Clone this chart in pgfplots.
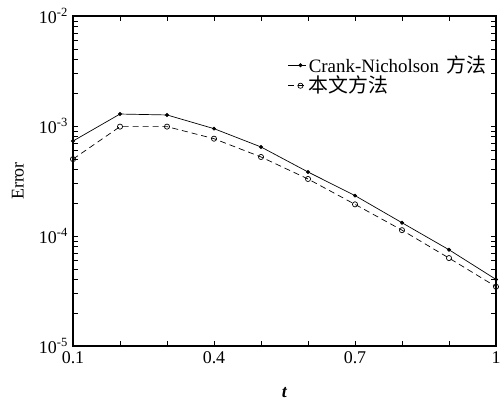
\documentclass[border=0pt]{standalone}
\usepackage{fontspec}
\setmainfont{Liberation Serif}
\newfontfamily\cjk[Scale=1.05]{Noto Sans CJK SC}
\usepackage{pgfplots}
\pgfplotsset{compat=1.18}

\begin{document}
\fontsize{18}{21}\selectfont
\begin{tikzpicture}
\begin{axis}[
  name=ax,
  scale only axis,
  width=423bp, height=330bp,
  ymode=log,
  xmin=0.1, xmax=1,
  ymin=1e-5, ymax=1e-2,
  xtick={0.1,0.4,0.7,1},
  xticklabels={0.1,0.4,0.7,1},
  minor xtick={0.2,0.3,0.5,0.6,0.8,0.9},
  ytick={1e-5,1e-4,1e-3,1e-2},
  yticklabels={10\textsuperscript{-5},10\textsuperscript{-4},10\textsuperscript{-3},10\textsuperscript{-2}},
  tick align=inside,
  major tick length=5pt,
  minor tick length=5pt,
  axis line style={line width=1.1pt},
  every tick/.style={black, line width=0.6pt},
  tick label style={font=\fontsize{18}{21}\selectfont\rmfamily},
  xticklabel style={yshift=1pt},
  yticklabel style={xshift=1pt},
  xlabel={\textbf{\textit{t}}},
  ylabel={Error},
  label style={font=\fontsize{18}{21}\selectfont\rmfamily},
  xlabel style={yshift=-12pt},
  ylabel style={yshift=3pt},
  legend style={draw=none, fill=none, at={(0.985,0.89)}, anchor=north east,
    font=\fontsize{19}{22}\selectfont\rmfamily, row sep=-3pt, inner sep=1pt},
  legend cell align=left,
  legend image code/.code={
    \draw[#1] (0pt,0pt) -- (18pt,0pt);
    \draw[#1] plot coordinates {(12pt,0pt)};
  },
]
\addplot[black, line width=0.7pt, mark=*, mark size=1.6pt] coordinates {
  (0.1,7.3e-4) (0.2,1.285e-3) (0.3,1.26e-3) (0.4,9.46e-4) (0.5,6.45e-4)
  (0.6,3.82e-4) (0.7,2.33e-4) (0.8,1.32e-4) (0.9,7.5e-5) (1.0,4.03e-5)
};
\addlegendentry{Crank-Nicholson\hspace{0.4em}{\cjk 方法}}
\addplot[black, line width=0.7pt, dash pattern=on 6pt off 4pt, mark=o, mark size=2.6pt, mark options={solid}] coordinates {
  (0.1,5.0e-4) (0.2,9.87e-4) (0.3,9.87e-4) (0.4,7.67e-4) (0.5,5.23e-4)
  (0.6,3.3e-4) (0.7,1.94e-4) (0.8,1.13e-4) (0.9,6.3e-5) (1.0,3.46e-5)
};
\addlegendentry{{\cjk 本文方法}}
\end{axis}
\pgfresetboundingbox
\path (ax.south west) ++(-73bp,-56bp) rectangle ([shift={(4bp,16bp)}]ax.north east);
\end{tikzpicture}
\end{document}
